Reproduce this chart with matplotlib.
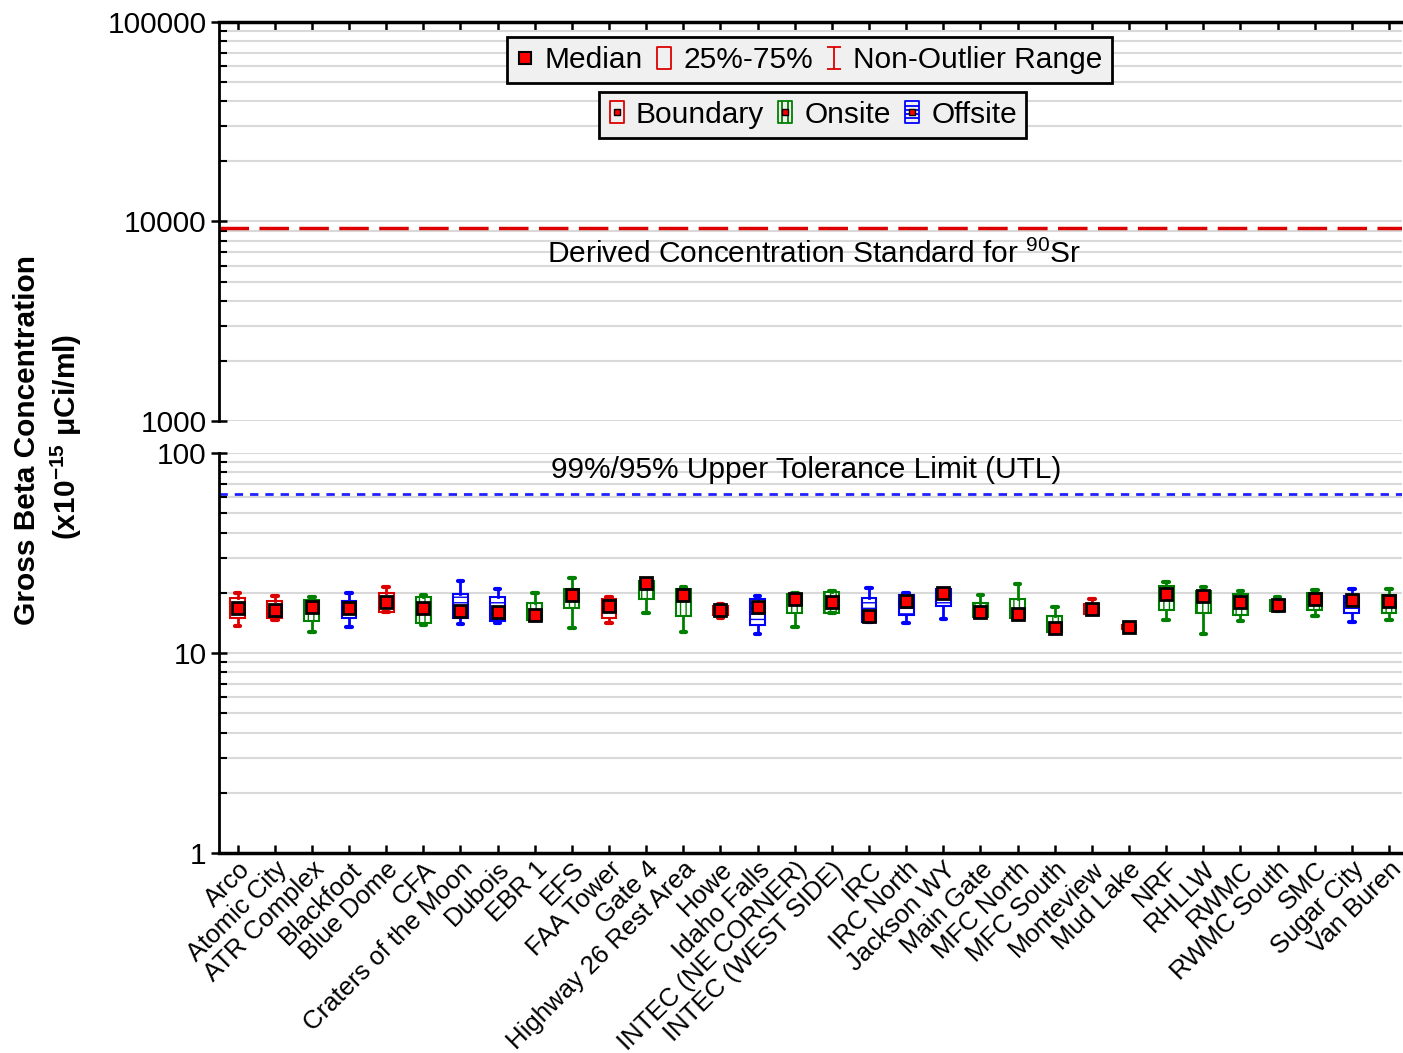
import matplotlib
matplotlib.use('Agg')
import matplotlib.pyplot as plt
import numpy as np
from matplotlib.lines import Line2D
from matplotlib.path import Path
from matplotlib.ticker import LogLocator, NullFormatter

plt.rcParams['font.family'] = ['Liberation Sans', 'DejaVu Sans']
plt.rcParams['mathtext.default'] = 'regular'
plt.rcParams['hatch.linewidth'] = 1.0

sites = ['Arco', 'Atomic City', 'ATR Complex', 'Blackfoot', 'Blue Dome', 'CFA',
         'Craters of the Moon', 'Dubois', 'EBR 1', 'EFS', 'FAA Tower', 'Gate 4',
         'Highway 26 Rest Area', 'Howe', 'Idaho Falls', 'INTEC (NE CORNER)',
         'INTEC (WEST SIDE)', 'IRC', 'IRC North', 'Jackson WY', 'Main Gate',
         'MFC North', 'MFC South', 'Monteview', 'Mud Lake', 'NRF', 'RHLLW', 'RWMC',
         'RWMC South', 'SMC', 'Sugar City', 'Van Buren']
# B = boundary, O = onsite, F = offsite
site_type = ['B', 'B', 'O', 'F', 'B', 'O', 'F', 'F', 'O', 'O', 'B', 'O',
             'O', 'B', 'F', 'O', 'O', 'F', 'F', 'F', 'O', 'O', 'O', 'B',
             'B', 'O', 'O', 'O', 'O', 'O', 'F', 'O']

whis_lo = [13.7, 14.6, 12.8, 13.5, 16.1, 13.8, 14.0, 14.2, 14.7, 13.3, 14.2, 15.8,
           12.8, 14.9, 12.5, 13.5, 15.9, 14.3, 14.2, 14.8, 15.2, 14.9, 12.7, 15.6,
           13.1, 14.6, 12.4, 14.4, 16.3, 15.3, 14.3, 14.6]
q1 = [15.05, 15.05, 14.4, 15.05, 16.1, 14.2, 14.9, 14.4, 14.7, 16.7, 15.05, 18.6,
      15.4, 15.5, 13.8, 15.9, 15.9, 14.3, 15.5, 17.2, 15.2, 14.9, 12.7, 15.6,
      13.2, 16.4, 15.8, 15.5, 16.3, 16.4, 15.8, 15.9]
median = [16.7, 16.4, 17.0, 16.8, 17.9, 16.8, 16.2, 16.0, 15.5, 19.5, 17.1, 22.3,
          19.5, 16.4, 17.0, 18.7, 17.9, 15.4, 18.1, 20.05, 16.0, 15.6, 13.4, 16.55,
          13.5, 19.8, 19.2, 17.9, 17.3, 18.7, 18.4, 18.1]
q3 = [18.8, 18.3, 18.4, 18.1, 19.9, 19.1, 19.7, 19.1, 17.7, 21.0, 18.6, 22.8,
      20.8, 17.2, 18.6, 19.8, 20.3, 18.8, 19.5, 20.8, 17.7, 18.7, 15.4, 17.5,
      13.8, 21.6, 20.4, 19.8, 18.4, 20.05, 19.2, 19.4]
whis_hi = [20.0, 19.2, 19.0, 20.0, 21.3, 19.5, 22.9, 21.0, 19.9, 23.6, 19.0, 23.2,
           21.5, 17.5, 19.3, 20.0, 20.4, 21.1, 19.9, 21.0, 19.5, 22.2, 17.0, 18.7,
           13.9, 22.7, 21.4, 20.4, 19.0, 20.7, 21.0, 21.0]

dcs_sr90 = 9300
utl = 62.5

type_color = {'B': '#dd0000', 'O': '#008000', 'F': '#0000ff'}
type_hatch = {'B': None, 'O': '|||', 'F': '---'}

fig = plt.figure(figsize=(14.03, 10.53), dpi=100)
ax_top = fig.add_axes([0.1561, 0.6002, 0.8432, 0.3789])
ax_bot = fig.add_axes([0.1561, 0.1899, 0.8432, 0.3799])

x = np.arange(len(sites))

# box plots (bottom panel)
stats = [dict(whislo=a, q1=b, med=c, q3=d, whishi=e)
         for a, b, c, d, e in zip(whis_lo, q1, median, q3, whis_hi)]
bp = ax_bot.bxp(stats, positions=x, widths=0.4, patch_artist=True,
                showfliers=False, capwidths=0.15, manage_ticks=False)
for i, t in enumerate(site_type):
    c = type_color[t]
    box = bp['boxes'][i]
    box.set_facecolor('white')
    box.set_edgecolor(c)
    box.set_linewidth(1.5)
    if type_hatch[t]:
        box.set_hatch(type_hatch[t])
    for w in bp['whiskers'][2 * i:2 * i + 2]:
        w.set_color(c)
        w.set_linewidth(2)
    for cp in bp['caps'][2 * i:2 * i + 2]:
        cp.set_color(c)
        cp.set_linewidth(3)
        cp.set_solid_capstyle('round')
    bp['medians'][i].set_visible(False)

ax_bot.plot(x, median, 's', ms=8.5, mfc='#ff0000', mec='black', mew=2,
            ls='none', zorder=5)

# reference lines
ax_top.axhline(dcs_sr90, color='#dd0000', lw=2.5, dashes=(8.5, 3))
ax_bot.axhline(utl, color='#2020ff', lw=2, dashes=(3, 2.5))
ax_top.text(0.503, 6870, 'Derived Concentration Standard for $^{90}$Sr',
            transform=ax_top.get_yaxis_transform(), ha='center', va='center',
            fontsize=21.5)
ax_bot.text(0.496, 82, '99%/95% Upper Tolerance Limit (UTL)',
            transform=ax_bot.get_yaxis_transform(), ha='center', va='center',
            fontsize=21.5)

# axes styling
for ax, lims, ticks in [(ax_top, (1000, 100000), [1000, 10000, 100000]),
                        (ax_bot, (1, 100), [1, 10, 100])]:
    ax.set_yscale('log')
    ax.set_ylim(*lims)
    ax.set_xlim(-0.5, 31.35)
    ax.set_yticks(ticks)
    ax.set_yticklabels([str(t) for t in ticks])
    ax.yaxis.set_minor_locator(LogLocator(base=10, subs=np.arange(2, 10)))
    ax.yaxis.set_minor_formatter(NullFormatter())
    ax.yaxis.grid(True, which='both', color='#d9d9d9', lw=1.5, zorder=0)
    ax.set_axisbelow(True)
    ax.tick_params(axis='y', which='major', direction='inout', length=12,
                   width=1.8, labelsize=21.5, pad=3)
    ax.tick_params(axis='y', which='minor', direction='in', length=6, width=1.5)
    ax.spines['right'].set_visible(False)
    ax.spines['left'].set_linewidth(2)
    ax.set_xticks(x)

ax_top.spines['bottom'].set_visible(False)
ax_top.spines['top'].set_linewidth(2.5)
ax_top.xaxis.set_ticks_position('top')
ax_top.tick_params(axis='x', direction='in', length=6, width=1.8,
                   labeltop=False, labelbottom=False)

ax_bot.spines['top'].set_visible(False)
ax_bot.spines['bottom'].set_linewidth(2.5)
ax_bot.tick_params(axis='x', direction='in', length=6, width=1.8, pad=3)
ax_bot.set_xticklabels(sites, rotation=45, ha='right', va='top',
                       rotation_mode='anchor', fontsize=18.5)

# y label
fig.text(0.0195, 0.582, 'Gross Beta Concentration', rotation=90,
         ha='center', va='center', fontsize=21.5, fontweight='bold')
fig.text(0.047, 0.585, '(x10$^{-15}$ \u03bcCi/ml)', rotation=90,
         ha='center', va='center', fontsize=21.5, fontweight='bold')

# legends
rect = [(-0.3, -0.5), (0.3, -0.5), (0.3, 0.5), (-0.3, 0.5), (-0.3, -0.5)]
rect_codes = [Path.MOVETO] + [Path.LINETO] * 3 + [Path.CLOSEPOLY]
rect_path = Path(rect, rect_codes)
ibeam_path = Path([(-0.3, 0.5), (0.3, 0.5), (0, 0.5), (0, -0.5), (-0.3, -0.5), (0.3, -0.5)],
                  [Path.MOVETO, Path.LINETO, Path.MOVETO, Path.LINETO, Path.MOVETO, Path.LINETO])
onsite_path = Path(rect + [(-0.12, -0.5), (-0.12, 0.5), (0.12, -0.5), (0.12, 0.5)],
                   rect_codes + [Path.MOVETO, Path.LINETO, Path.MOVETO, Path.LINETO])
offsite_path = Path(rect + [(-0.3, -0.27), (0.3, -0.27), (-0.3, -0.1), (0.3, -0.1),
                            (-0.3, 0.1), (0.3, 0.1), (-0.3, 0.27), (0.3, 0.27)],
                    rect_codes + [Path.MOVETO, Path.LINETO] * 4)


def mk(marker, color, ms=16, mew=1.3, mfc='none'):
    return Line2D([], [], marker=marker, ms=ms, mfc=mfc, mec=color, mew=mew, ls='none')


dot = mk('s', 'black', ms=4.5, mew=1, mfc='#ff0000')
h1 = [mk('s', 'black', ms=8, mew=1.5, mfc='#ff0000'), mk(rect_path, '#dd0000'),
      mk(ibeam_path, '#dd0000')]
l1 = ['Median', '25%-75%', 'Non-Outlier Range']
h2 = [(mk(rect_path, '#dd0000'), dot), (mk(onsite_path, '#008000'), dot),
      (mk(offsite_path, '#0000ff'), dot)]
l2 = ['Boundary', 'Onsite', 'Offsite']

leg_kw = dict(ncol=3, loc='center', bbox_transform=fig.transFigure, frameon=True,
              fancybox=False, edgecolor='black', facecolor='#f0f0f0', framealpha=1,
              fontsize=21.5, handlelength=0.6, handletextpad=0.35, columnspacing=0.4,
              borderpad=0.3)
leg1 = ax_top.legend(h1, l1, bbox_to_anchor=(0.577, 0.943), **leg_kw)
leg1.get_frame().set_linewidth(2)
ax_top.add_artist(leg1)
leg2 = ax_top.legend(h2, l2, bbox_to_anchor=(0.579, 0.891), **leg_kw)
leg2.get_frame().set_linewidth(2)

fig.savefig('out.png', dpi=100)
